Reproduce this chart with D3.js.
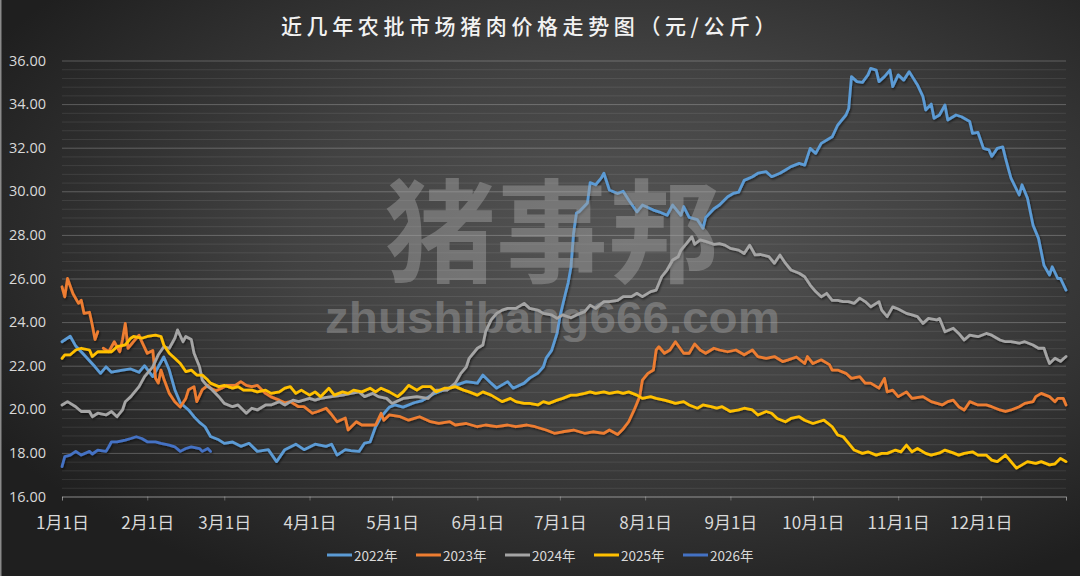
<!DOCTYPE html>
<html><head><meta charset="utf-8">
<script src="https://cdn.jsdelivr.net/npm/d3@7"></script>
<style>html,body{margin:0;padding:0;background:#2a2a2a;} svg{display:block;}</style>
</head><body><svg id="c" width="1080" height="576"></svg>
<script>
// ---------- data ----------
const chartTitle = "近几年农批市场猪肉价格走势图（元/公斤）";
const monthLabels = ["1月1日","2月1日","3月1日","4月1日","5月1日","6月1日","7月1日","8月1日","9月1日","10月1日","11月1日","12月1日"];
const monthStartDays = [0,31,59,90,120,151,181,212,243,273,304,334,365];
const yTicks = [16,18,20,22,24,26,28,30,32,34,36];
const seriesNames = ["2022年","2023年","2024年","2025年","2026年"];
const seriesColors = ["#5B9BD5","#ED7D31","#A5A5A5","#FFC000","#4472C4"];

// [day of year, price]
const s2022 = [[0,23.1],[3,23.35],[5,22.9],[8,22.5],[12,21.95],[14,21.65],[16,21.95],[18,21.7],[22,21.8],[25,21.85],[28,21.7],[30,22.0],[33,21.5],[35,21.95],[37,22.4],[39,21.8],[41,20.9],[43,20.3],[46,19.97],[48,19.66],[50,19.4],[52,19.2],[54,18.75],[57,18.6],[59,18.44],[62,18.5],[65,18.3],[68,18.44],[71,18.07],[75,18.15],[78,17.6],[81,18.15],[85,18.4],[88,18.15],[92,18.4],[96,18.3],[98,18.4],[100,17.9],[103,18.15],[105,18.1],[108,18.07],[110,18.45],[112,18.5],[114,19.2],[116,19.66],[119,20.1],[121,20.2],[124,20.1],[128,20.3],[131,20.4],[135,20.7],[139,20.9],[143,21.1],[147,21.27],[151,21.2],[153,21.57],[156,21.2],[158,20.97],[162,21.27],[164,20.97],[168,21.2],[170,21.43],[173,21.66],[175,21.95],[176,22.35],[178,22.7],[180,23.5],[181,24.25],[183,25.3],[184,25.8],[185,26.5],[186,28.1],[187,29.0],[188,29.06],[191,29.46],[192,30.4],[194,30.3],[196,30.6],[197,30.83],[199,30.06],[202,29.9],[204,30.0],[206,29.6],[209,29.06],[211,29.37],[215,29.14],[217,29.06],[220,28.9],[222,29.37],[225,28.9],[226,29.3],[228,28.8],[231,28.7],[233,28.3],[234,28.8],[237,29.2],[239,29.37],[242,29.75],[244,29.9],[246,29.96],[248,30.5],[251,30.67],[253,30.83],[256,30.9],[258,30.67],[261,30.83],[263,30.98],[265,31.13],[268,31.28],[270,31.2],[272,31.97],[274,31.74],[276,32.2],[280,32.5],[282,33.04],[285,33.5],[286,33.8],[287,35.26],[289,35.03],[291,35.0],[293,35.34],[294,35.64],[296,35.56],[297,35.03],[299,35.26],[301,35.56],[302,34.8],[304,35.34],[306,35.1],[308,35.49],[311,34.88],[313,34.34],[314,33.73],[316,34.0],[317,33.35],[319,33.5],[321,33.96],[322,33.27],[325,33.5],[327,33.42],[330,33.2],[331,32.66],[333,32.7],[335,31.97],[337,31.9],[338,31.6],[340,31.97],[342,32.04],[343,31.52],[344,31.05],[345,30.6],[348,29.83],[349,30.3],[351,29.68],[353,28.45],[355,27.84],[357,26.6],[359,26.16],[360,26.54],[362,26.0],[363,26.0],[365,25.47]];
const s2023 = [[0,25.62],[1,25.16],[2,26.0],[4,25.3],[6,24.86],[7,25.0],[8,24.4],[10,24.45],[11,23.87],[12,23.2],[13,23.56],[14,null],[15,22.8],[17,22.64],[19,23.1],[21,22.64],[22,23.2],[23,23.94],[24,22.8],[26,23.1],[28,23.4],[29,23.1],[31,22.57],[33,22.7],[34,21.42],[35,21.2],[36,21.8],[37,21.4],[39,20.73],[41,20.35],[43,20.1],[45,20.5],[46,20.9],[48,21.04],[49,20.35],[51,20.9],[53,21.1],[54,20.97],[56,20.85],[58,20.97],[60,21.1],[63,21.1],[65,21.27],[67,21.1],[69,21.04],[71,21.1],[74,20.73],[76,20.57],[79,20.42],[81,20.3],[83,20.35],[86,20.12],[88,20.12],[91,19.82],[93,19.9],[96,20.05],[98,19.76],[100,19.43],[103,19.6],[104,19.05],[107,19.43],[109,19.28],[111,19.28],[114,19.28],[116,19.82],[117,19.5],[119,19.74],[123,19.66],[126,19.5],[130,19.66],[134,19.43],[137,19.35],[141,19.43],[143,19.28],[147,19.35],[151,19.2],[154,19.28],[158,19.2],[162,19.28],[165,19.2],[169,19.28],[172,19.2],[176,19.05],[179,18.9],[182,18.97],[186,19.05],[190,18.9],[193,18.97],[197,18.9],[199,19.05],[202,18.84],[204,19.1],[206,19.43],[208,19.97],[210,20.58],[211,21.34],[213,21.65],[215,21.8],[216,22.72],[217,22.87],[219,22.57],[221,22.72],[223,23.1],[226,22.57],[228,22.57],[230,23.0],[232,22.72],[234,22.57],[237,22.8],[239,22.72],[242,22.64],[245,22.72],[248,22.5],[251,22.72],[253,22.42],[256,22.34],[259,22.42],[262,22.19],[264,22.27],[267,22.4],[270,22.1],[271,22.42],[273,22.1],[276,22.27],[279,22.05],[280,21.8],[282,21.8],[285,21.65],[287,21.42],[290,21.5],[292,21.2],[294,21.2],[297,20.97],[299,21.42],[300,20.8],[302,20.88],[304,20.58],[307,20.8],[309,20.5],[313,20.58],[316,20.35],[320,20.2],[322,20.35],[324,20.42],[326,20.12],[328,19.97],[330,20.35],[333,20.2],[336,20.2],[338,20.12],[341,19.97],[343,19.9],[345,19.97],[348,20.12],[350,20.27],[353,20.35],[354,20.58],[356,20.73],[359,20.58],[361,20.35],[362,20.5],[364,20.5],[365,20.2]];
const s2024 = [[0,20.2],[2,20.35],[5,20.12],[7,19.9],[10,19.9],[11,19.66],[13,19.82],[16,19.74],[18,19.9],[20,19.66],[22,19.97],[23,20.35],[25,20.58],[28,21.04],[30,21.5],[33,21.95],[35,22.5],[37,22.87],[39,22.8],[41,23.26],[42,23.64],[44,23.1],[45,23.34],[47,23.2],[48,22.57],[50,21.95],[51,21.34],[53,21.04],[54,20.97],[57,20.58],[59,20.27],[62,20.12],[64,20.2],[67,19.82],[69,20.05],[71,19.97],[74,20.2],[76,20.2],[79,20.35],[81,20.2],[84,20.42],[86,20.35],[90,20.5],[92,20.42],[94,20.5],[98,20.58],[102,20.65],[105,20.73],[108,20.8],[110,20.58],[113,20.73],[115,20.58],[118,20.5],[120,20.27],[124,20.5],[129,20.58],[133,20.5],[136,20.88],[140,20.88],[143,21.2],[145,21.65],[147,21.95],[148,22.34],[151,22.8],[153,22.95],[154,23.56],[156,24.1],[158,24.4],[160,24.55],[162,24.63],[165,24.63],[168,24.86],[170,24.63],[173,24.55],[175,24.4],[178,24.33],[180,24.17],[182,24.33],[185,24.2],[187,24.33],[190,24.48],[192,24.78],[194,24.63],[197,24.94],[199,24.94],[202,25.0],[204,25.17],[207,25.17],[209,25.32],[211,25.17],[214,25.4],[216,25.47],[218,26.08],[220,26.4],[222,26.85],[224,27.0],[225,27.3],[227,27.6],[229,27.92],[230,27.57],[232,27.77],[234,27.7],[237,27.57],[239,27.6],[241,27.53],[243,27.38],[246,27.3],[248,27.15],[250,27.53],[252,27.08],[254,27.1],[257,27.0],[259,26.7],[261,27.08],[263,26.7],[265,26.39],[268,26.24],[270,26.08],[272,25.7],[274,25.4],[276,25.16],[278,25.32],[280,25.0],[282,25.0],[284,24.94],[286,24.94],[288,24.86],[290,25.1],[292,24.94],[294,24.7],[297,24.94],[298,24.55],[300,24.25],[302,24.7],[304,24.6],[307,24.4],[309,24.33],[311,24.25],[313,23.94],[315,24.17],[318,24.1],[319,24.17],[321,23.56],[324,23.72],[326,23.48],[328,23.18],[330,23.4],[333,23.33],[336,23.48],[338,23.4],[341,23.18],[343,23.1],[345,23.1],[348,23.03],[350,23.1],[353,22.95],[355,22.8],[357,22.8],[358,22.42],[359,22.1],[361,22.34],[363,22.2],[365,22.42]];
const s2025 = [[0,22.34],[1,22.5],[3,22.5],[5,22.72],[7,22.8],[10,22.72],[11,22.42],[13,22.64],[16,22.64],[18,22.64],[20,22.87],[23,22.95],[25,23.26],[26,23.34],[29,23.26],[31,23.34],[34,23.4],[36,23.34],[37,22.95],[39,22.57],[41,22.34],[43,22.1],[45,21.73],[47,21.8],[49,21.57],[51,21.57],[53,21.34],[54,21.2],[57,21.04],[59,21.1],[62,20.97],[64,21.04],[66,20.88],[69,20.88],[71,20.8],[74,20.88],[76,20.73],[79,20.8],[81,20.97],[83,21.04],[85,20.73],[87,20.88],[90,20.65],[92,20.8],[94,20.58],[97,20.97],[99,20.65],[102,20.8],[104,20.73],[106,20.88],[109,20.8],[112,20.97],[114,20.8],[116,20.97],[119,20.8],[122,20.58],[124,20.8],[126,21.1],[129,20.88],[131,21.04],[134,21.04],[136,20.8],[139,20.97],[141,20.97],[143,21.04],[146,20.88],[148,20.8],[151,20.65],[153,20.8],[156,20.65],[158,20.5],[160,20.35],[163,20.5],[165,20.35],[168,20.27],[170,20.27],[173,20.2],[175,20.35],[177,20.27],[180,20.42],[182,20.5],[185,20.65],[187,20.65],[190,20.73],[192,20.8],[194,20.73],[197,20.8],[199,20.73],[202,20.8],[204,20.73],[206,20.8],[209,20.65],[211,20.5],[214,20.58],[216,20.5],[219,20.42],[221,20.35],[223,20.27],[226,20.35],[228,20.2],[231,20.05],[233,20.2],[236,20.12],[238,20.05],[240,20.12],[243,19.9],[246,19.97],[248,20.05],[251,19.97],[253,19.74],[256,19.9],[258,19.82],[260,19.58],[263,19.43],[265,19.58],[268,19.66],[270,19.5],[273,19.35],[275,19.43],[277,19.5],[280,19.2],[282,18.82],[284,18.74],[286,18.44],[288,18.13],[291,17.98],[293,18.05],[296,17.9],[298,17.98],[300,17.98],[303,18.13],[305,18.05],[307,18.36],[309,18.05],[311,18.2],[314,17.98],[316,17.9],[319,18.0],[321,18.13],[324,18.0],[326,17.9],[328,17.98],[331,18.05],[333,17.9],[336,17.9],[338,17.67],[340,17.6],[343,17.9],[345,17.6],[347,17.3],[349,17.45],[351,17.6],[354,17.52],[356,17.6],[359,17.45],[361,17.5],[363,17.75],[365,17.6]];
const s2026 = [[0,17.37],[1,17.83],[3,17.9],[5,18.07],[7,17.9],[10,18.07],[11,17.95],[13,18.13],[16,18.07],[17,18.28],[18,18.51],[20,18.51],[23,18.59],[25,18.66],[27,18.74],[29,18.66],[31,18.51],[34,18.51],[36,18.44],[39,18.36],[41,18.28],[43,18.07],[45,18.2],[47,18.28],[50,18.2],[51,18.07],[53,18.2],[54,18.07]];
const seriesData = [s2022, s2023, s2024, s2025, s2026];

// ---------- drawing ----------
const W = 1080, H = 576;
const svg = d3.select("#c");
const defs = svg.append("defs");
const rg = defs.append("radialGradient").attr("id","bg").attr("cx","58%").attr("cy","42%").attr("r","68%");
rg.append("stop").attr("offset","0%").attr("stop-color","#555555");
rg.append("stop").attr("offset","45%").attr("stop-color","#424242");
rg.append("stop").attr("offset","100%").attr("stop-color","#1f1f1f");
const sh = defs.append("filter").attr("id","sh").attr("x","-5%").attr("y","-5%").attr("width","110%").attr("height","110%");
sh.append("feDropShadow").attr("dx",1).attr("dy",1.5).attr("stdDeviation",1).attr("flood-color","#000").attr("flood-opacity",0.55);

svg.append("rect").attr("width",W).attr("height",H).attr("fill","url(#bg)");
svg.append("rect").attr("x",0).attr("y",0).attr("width",1.5).attr("height",H).attr("fill","#8a8a8a");

const x = d3.scaleLinear().domain([0,365]).range([62,1066]);
const y = d3.scaleLinear().domain([16,36]).range([496.5,60.5]);

// minor grid
const minorTicks = d3.range(16, 36.001, 0.4).map(v => +v.toFixed(1));
svg.append("g").attr("transform","translate(62,0)")
  .call(d3.axisLeft(y).tickValues(minorTicks).tickSize(-(1066-62)).tickFormat(""))
  .call(g => g.select(".domain").remove())
  .call(g => g.selectAll("line").attr("stroke","rgba(255,255,255,0.09)").attr("stroke-width",1));
// major grid
svg.append("g").attr("transform","translate(62,0)")
  .call(d3.axisLeft(y).tickValues(yTicks).tickSize(-(1066-62)).tickFormat(""))
  .call(g => g.select(".domain").remove())
  .call(g => g.selectAll("line").attr("stroke","rgba(255,255,255,0.17)").attr("stroke-width",1));

// y labels
svg.append("g").attr("transform","translate(62,0)")
  .call(d3.axisLeft(y).tickValues(yTicks).tickSize(0).tickPadding(16).tickFormat(d3.format(".2f")))
  .call(g => g.select(".domain").remove())
  .call(g => g.selectAll("text").attr("fill","#d9d9d9").attr("font-size","14.5px").attr("font-family","'Open Sans','Liberation Sans',sans-serif"));

// x axis
svg.append("g").attr("transform",`translate(0,${y(16)})`)
  .call(d3.axisBottom(x).tickValues(monthStartDays).tickSize(4).tickFormat((d,i)=> monthLabels[i] || ""))
  .call(g => g.select(".domain").attr("stroke","rgba(255,255,255,0.28)"))
  .call(g => g.selectAll("line").attr("stroke","rgba(255,255,255,0.28)"))
  .call(g => g.selectAll("text").attr("y",24.5).attr("dy",null).attr("dominant-baseline","central")
     .attr("fill","#d9d9d9").attr("font-size","17px").attr("font-family","'Noto Sans CJK SC',sans-serif"));

// lines
const line = d3.line().defined(d => d[1] != null).x(d => x(d[0])).y(d => y(d[1]));
const lg = svg.append("g").attr("filter","url(#sh)");
seriesData.forEach((s,i) => {
  lg.append("path").datum(s).attr("d", line).attr("fill","none")
    .attr("stroke", seriesColors[i]).attr("stroke-width",2.8)
    .attr("stroke-linejoin","round").attr("stroke-linecap","round");
});

// watermark
svg.append("text").attr("x",552).attr("y",225).attr("text-anchor","middle").attr("dominant-baseline","central")
  .attr("font-family","'Noto Sans CJK SC',sans-serif").attr("font-weight",700).attr("font-size","112px")
  .attr("fill","#a0a0a0").attr("fill-opacity",0.48).text("猪事邦");
svg.append("text").attr("x",325).attr("y",333).attr("textLength",455).attr("lengthAdjust","spacingAndGlyphs")
  .attr("font-family","'Liberation Sans',Arial,sans-serif").attr("font-weight",700).attr("font-size","44px")
  .attr("fill","#a0a0a0").attr("fill-opacity",0.48).text("zhushibang666.com");

// title
svg.append("text").attr("x",281).attr("y",25).attr("dominant-baseline","central")
  .attr("font-family","'Noto Sans CJK SC',sans-serif").attr("font-size","21px").attr("font-weight",500)
  .attr("letter-spacing","4.6px").attr("fill","#f2f2f2").text(chartTitle);

// legend
const leg = svg.append("g");
seriesNames.forEach((n,i) => {
  const lx = 327 + i*89;
  leg.append("line").attr("x1",lx).attr("x2",lx+25).attr("y1",555).attr("y2",555)
    .attr("stroke",seriesColors[i]).attr("stroke-width",3);
  leg.append("text").attr("x",lx+27).attr("y",555).attr("dominant-baseline","central")
    .attr("font-family","'Noto Sans CJK SC',sans-serif").attr("font-size","13.5px").attr("fill","#d9d9d9").text(n);
});
</script></body></html>
